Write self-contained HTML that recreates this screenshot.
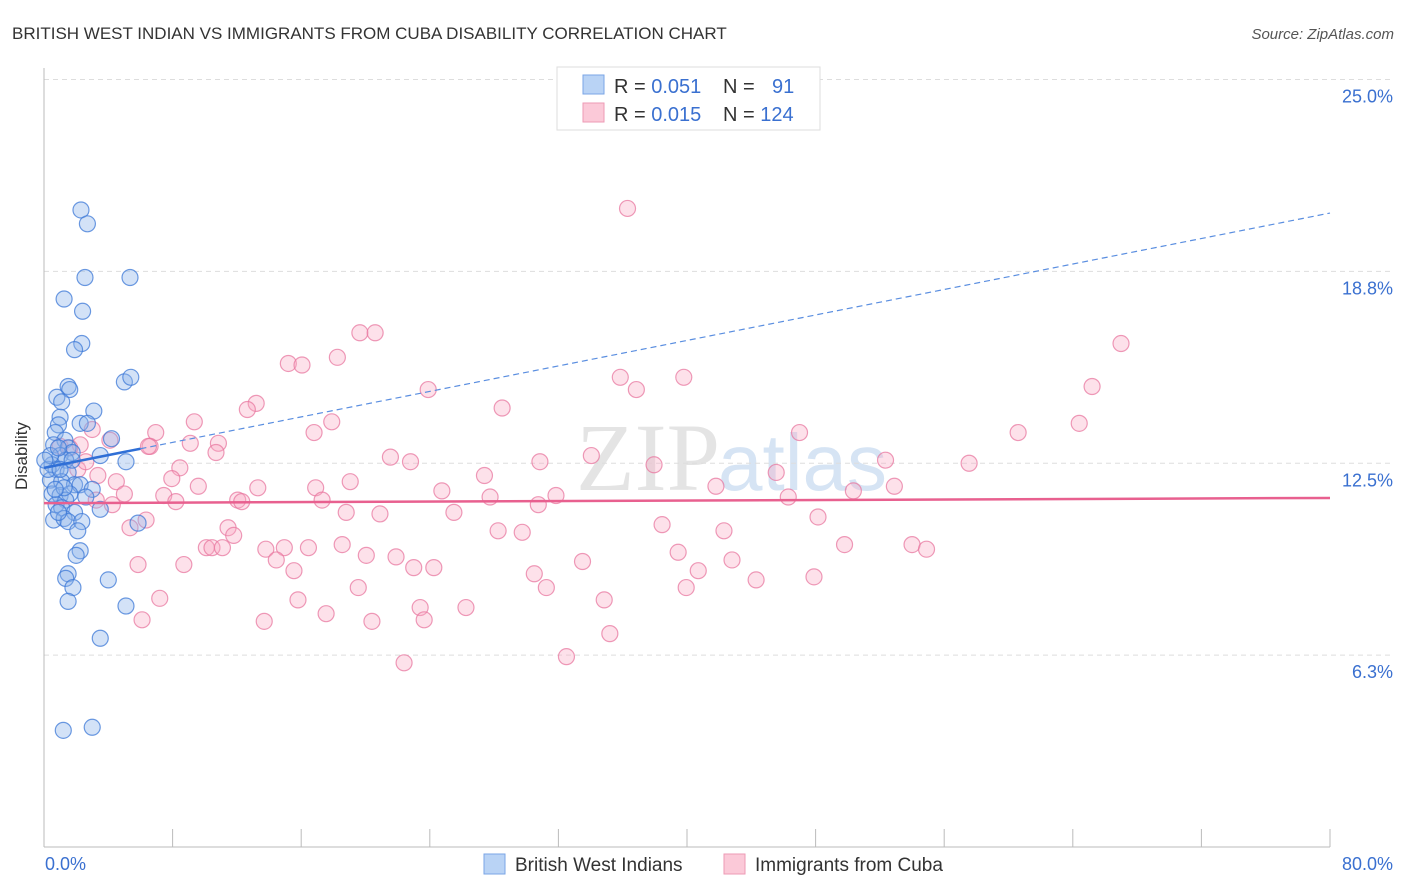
<!DOCTYPE html>
<html><head><meta charset="utf-8"><style>
body{margin:0;background:#fff;font-family:"Liberation Sans",sans-serif;}
svg{display:block}
</style></head><body>
<svg id="chart" width="1406" height="892">
<text x="12" y="39" font-size="17" fill="#333">BRITISH WEST INDIAN VS IMMIGRANTS FROM CUBA DISABILITY CORRELATION CHART</text>
<text x="1394" y="39" font-size="15" fill="#555" text-anchor="end" font-style="italic">Source: ZipAtlas.com</text>
<text x="720" y="490" font-size="96" fill="#e4e4e4" text-anchor="end" font-family="Liberation Serif">ZIP</text>
<text x="718" y="490" font-size="80" fill="#d6e4f4">atlas</text>
<g id="grid"></g><g id="axes"></g><g id="pts"></g><g id="trends"></g>
<text x="27" y="456" font-size="17" fill="#333" text-anchor="middle" transform="rotate(-90 27 456)">Disability</text>
<g>
<rect x="557" y="67" width="263" height="63" fill="#fff" stroke="#ddd"/>
<rect x="583" y="75" width="21" height="19" fill="#b9d3f5" stroke="#7aa5e6"/>
<rect x="583" y="103" width="21" height="19" fill="#fbc9d8" stroke="#ee9ab5"/>
<text x="614" y="93" font-size="20" fill="#333">R = <tspan fill="#3a70d0">0.051</tspan></text>
<text x="723" y="93" font-size="20" fill="#333">N = <tspan fill="#3a70d0" x="772">91</tspan></text>
<text x="614" y="121" font-size="20" fill="#333">R = <tspan fill="#3a70d0">0.015</tspan></text>
<text x="723" y="121" font-size="20" fill="#333">N = <tspan fill="#3a70d0">124</tspan></text>
</g>
<g>
<rect x="484" y="854" width="21" height="20" fill="#b9d3f5" stroke="#7aa5e6"/>
<text x="515" y="871" font-size="19" fill="#333">British West Indians</text>
<rect x="724" y="854" width="21" height="20" fill="#fbc9d8" stroke="#ee9ab5"/>
<text x="755" y="871" font-size="19" fill="#333">Immigrants from Cuba</text>
</g>
</svg>
<script>
const yTicks=[6.25,12.5,18.75,25];
const yTickLabels=["6.3%","12.5%","18.8%","25.0%"];
const xTickLabels=["0.0%","80.0%"];
const blueX=[2.3,2.7,2.55,5.35,1.25,2.4,2.35,1.9,1.5,1.6,5.0,5.4,0.8,1.1,3.1,1.0,0.9,2.25,2.7,4.2,0.7,1.3,0.6,1.5,1.75,1.0,1.35,3.5,5.1,0.5,0.75,1.5,0.4,1.1,1.9,2.25,3.0,0.5,1.0,1.6,1.35,0.75,1.1,1.9,3.5,0.6,1.25,1.5,2.35,5.85,2.1,2.25,2.0,1.5,1.35,4.0,1.8,1.5,5.1,3.5,1.2,3.0,0.25,0.4,1.0,0.05,0.9,1.75,1.25,0.7,2.6,0.9];
const blueY=[20.75,20.3,18.55,18.55,17.85,17.45,16.4,16.2,15.0,14.9,15.15,15.3,14.65,14.5,14.2,14.0,13.75,13.8,13.8,13.3,13.5,13.25,13.1,13.0,12.85,12.75,12.6,12.75,12.55,12.45,12.3,12.2,11.95,11.9,11.8,11.8,11.65,11.5,11.45,11.5,11.3,11.15,11.05,10.9,11.0,10.65,10.7,10.6,10.6,10.55,10.3,9.65,9.5,8.9,8.75,8.7,8.45,8.0,7.85,6.8,3.8,3.9,12.3,12.75,12.3,12.6,13.0,12.6,11.7,11.65,11.4,10.9];
const pinkX=[36.3,67.0,19.65,20.6,18.25,15.2,16.05,35.85,39.8,36.85,23.9,65.2,13.2,12.65,28.5,9.35,17.9,64.4,6.95,16.8,60.6,47.0,3.0,9.1,10.85,6.6,10.7,34.05,21.55,22.8,30.85,37.95,52.35,57.55,8.45,27.4,45.55,7.95,4.5,19.05,9.6,13.3,16.9,41.8,52.9,24.75,31.85,27.75,50.35,7.45,5.0,12.05,12.3,8.2,3.25,4.25,46.3,17.3,30.75,18.8,20.9,25.5,48.15,5.35,11.45,38.45,6.35,42.3,11.8,28.25,29.75,13.8,14.95,16.45,18.55,10.1,10.45,11.1,20.05,21.9,39.45,49.8,54.0,54.9,14.45,15.55,23.0,24.25,33.5,42.8,5.85,8.7,30.5,40.7,44.3,47.9,19.55,31.25,39.95,7.2,15.8,34.85,23.4,26.25,17.55,6.1,13.7,20.4,23.65,35.2,22.4,32.5,6.5,4.1,2.25,2.1,1.0,1.6,3.35,2.6];
const pinkY=[20.8,16.4,16.75,16.75,15.95,15.75,15.7,15.3,15.3,14.9,14.9,15.0,14.45,14.25,14.3,13.85,13.85,13.8,13.5,13.5,13.5,13.5,13.6,13.15,13.15,13.05,12.85,12.75,12.7,12.55,12.55,12.45,12.6,12.5,12.35,12.1,12.2,12.0,11.9,11.9,11.75,11.7,11.7,11.75,11.75,11.6,11.45,11.4,11.6,11.45,11.5,11.3,11.25,11.25,11.3,11.15,11.4,11.3,11.15,10.9,10.85,10.9,10.75,10.4,10.4,10.5,10.65,10.3,10.15,10.3,10.25,9.7,9.75,9.75,9.85,9.75,9.75,9.75,9.5,9.45,9.6,9.85,9.85,9.7,9.35,9.0,9.1,9.1,9.3,9.35,9.2,9.2,8.9,9.0,8.7,8.8,8.45,8.45,8.45,8.1,8.05,8.05,7.8,7.8,7.6,7.4,7.35,7.35,7.4,6.95,6.0,6.2,13.05,13.25,13.1,12.3,13.05,13.0,12.1,12.55];
const blueTrend=[12.35,20.65];
const pinkTrend=[11.2,11.37];
const NS="http://www.w3.org/2000/svg";
const X0=44,X1=1330,Y0=847,YS=30.7;
const sx=v=>X0+(X1-X0)*v/80;
const sy=v=>Y0-v*YS;
function mk(tag,attrs,parent){const e=document.createElementNS(NS,tag);for(const k in attrs)e.setAttribute(k,attrs[k]);document.getElementById(parent).appendChild(e);return e;}
yTicks.forEach((t,i)=>{
  const l=mk('line',{x1:X0,x2:1394,y1:sy(t),y2:sy(t),stroke:'#ddd','stroke-dasharray':'5,4'},'grid');
  
  
  const tx=mk('text',{x:1393,y:sy(t)+23,'font-size':18,fill:'#3a70d0','text-anchor':'end'},'grid');
  tx.textContent=yTickLabels[i];
  
  
});
const ax=mk('line',{x1:X0,x2:X0,y1:68,y2:Y0,stroke:'#bbb'},'axes');


const bx=mk('line',{x1:X0,x2:X1,y1:Y0,y2:Y0,stroke:'#bbb'},'axes');


for(let i=1;i<=10;i++){const t=mk('line',{x1:sx(i*8),x2:sx(i*8),y1:Y0,y2:Y0-18,stroke:'#bbb'},'axes');

}
[[0,'start',45],[80,'end',1393]].forEach((d,i)=>{const t=mk('text',{x:d[2],y:870,'font-size':18,fill:'#3a70d0','text-anchor':d[1]},'axes');t.textContent=xTickLabels[i];

});
pinkX.forEach((v,i)=>{const c=mk('circle',{cx:sx(v),cy:sy(pinkY[i]),r:8,fill:'rgba(248,170,195,0.35)',stroke:'rgba(232,120,160,0.75)','stroke-width':1.2},'pts');

});
blueX.forEach((v,i)=>{const c=mk('circle',{cx:sx(v),cy:sy(blueY[i]),r:8,fill:'rgba(140,180,235,0.38)',stroke:'rgba(60,120,215,0.75)','stroke-width':1.2},'pts');

});
const bt=v=>blueTrend[0]+(blueTrend[1]-blueTrend[0])*v/80;
let l1=mk('line',{x1:sx(0),y1:sy(bt(0)),x2:sx(6),y2:sy(bt(6)),stroke:'#2f6fd6','stroke-width':2.5},'trends');


let l2=mk('line',{x1:sx(6),y1:sy(bt(6)),x2:sx(80),y2:sy(bt(80)),stroke:'#5a8ee0','stroke-width':1.2,'stroke-dasharray':'6,4'},'trends');


let l3=mk('line',{x1:sx(0),y1:sy(pinkTrend[0]),x2:sx(80),y2:sy(pinkTrend[1]),stroke:'#e8608f','stroke-width':2.5},'trends');


</script>
</body></html>
